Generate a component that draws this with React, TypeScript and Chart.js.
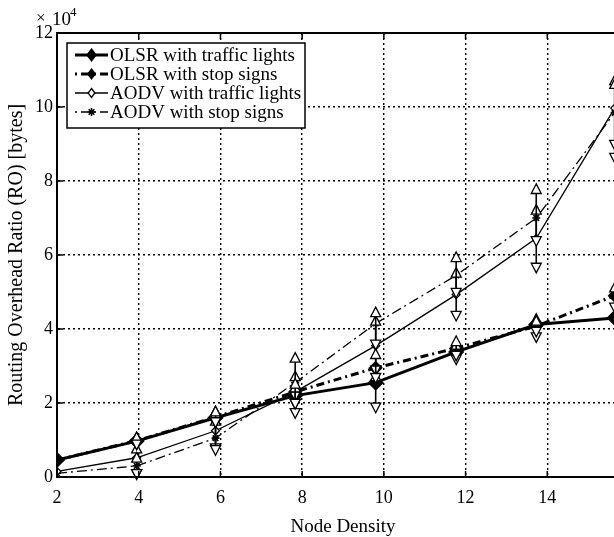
import React, { useEffect, useRef } from "react";
import { Chart, registerables } from "chart.js";
Chart.register(...registerables);

// ---- data ----
const xValues = [2, 3.95, 5.88, 7.83, 9.8, 11.77, 13.73, 15.65];
const olsrTrafficLights = [0.46, 0.97, 1.6, 2.2, 2.55, 3.38, 4.12, 4.3];
const olsrStopSigns = [0.46, 0.98, 1.62, 2.3, 2.95, 3.48, 4.08, 4.9];
const aodvTrafficLights = [0.15, 0.52, 1.25, 2.3, 3.55, 4.93, 6.45, 9.97];
const aodvStopSigns = [0.1, 0.3, 1.05, 2.55, 4.15, 5.45, 7.0, 9.85];

const olsrTrafficLow = [0.46, 0.9, 1.5, 1.75, 1.9, 3.2, 3.8, 4.3];
const olsrTrafficHigh = [0.46, 1.05, 1.7, 2.4, 2.7, 3.55, 4.25, 4.3];
const olsrStopLow = [0.46, 0.9, 1.5, 2.0, 2.7, 3.3, 3.95, 4.6];
const olsrStopHigh = [0.46, 1.05, 1.75, 2.5, 3.3, 3.65, 4.2, 5.1];
const aodvTrafficLow = [0.15, 0.1, 0.8, 2.0, 2.9, 4.38, 5.68, 8.65];
const aodvTrafficHigh = [0.15, 0.75, 1.5, 2.7, 4.2, 5.5, 7.2, 10.7];
const aodvStopLow = [0.1, 0.1, 0.75, 2.2, 3.6, 5.0, 6.4, 9.0];
const aodvStopHigh = [0.1, 0.5, 1.75, 3.2, 4.43, 5.92, 7.76, 10.6];

const xTicks = [2, 4, 6, 8, 10, 12, 14, 16];
const yTicks = [0, 2, 4, 6, 8, 10, 12];

const seriesLabels = [
  "OLSR with traffic lights",
  "OLSR with stop signs",
  "AODV with traffic lights",
  "AODV with stop signs",
];

const SERIF = "'Liberation Serif', 'Times New Roman', serif";
const DASHDOT_THICK = [8, 4, 2, 4];
const DASHDOT_THIN = [10, 4, 2, 4];

const toPoints = (ys: number[]) => xValues.map((x, i) => ({ x, y: ys[i] }));

function diamond(ctx: CanvasRenderingContext2D, x: number, y: number, r: number, filled: boolean) {
  ctx.beginPath();
  ctx.moveTo(x, y - r);
  ctx.lineTo(x + r * 0.75, y);
  ctx.lineTo(x, y + r);
  ctx.lineTo(x - r * 0.75, y);
  ctx.closePath();
  ctx.fillStyle = filled ? "#000" : "#fff";
  ctx.fill();
  ctx.strokeStyle = "#000";
  ctx.lineWidth = 1.3;
  ctx.stroke();
}

function star(ctx: CanvasRenderingContext2D, x: number, y: number, r: number) {
  ctx.strokeStyle = "#000";
  ctx.lineWidth = 1.6;
  ctx.beginPath();
  ctx.moveTo(x - r, y);
  ctx.lineTo(x + r, y);
  ctx.moveTo(x, y - r);
  ctx.lineTo(x, y + r);
  ctx.moveTo(x - r * 0.7, y - r * 0.7);
  ctx.lineTo(x + r * 0.7, y + r * 0.7);
  ctx.moveTo(x + r * 0.7, y - r * 0.7);
  ctx.lineTo(x - r * 0.7, y + r * 0.7);
  ctx.stroke();
}

function triangle(ctx: CanvasRenderingContext2D, x: number, y: number, up: boolean) {
  const h = 6;
  const w = 5;
  ctx.beginPath();
  if (up) {
    ctx.moveTo(x, y - h);
    ctx.lineTo(x + w, y + h * 0.6);
    ctx.lineTo(x - w, y + h * 0.6);
  } else {
    ctx.moveTo(x, y + h);
    ctx.lineTo(x + w, y - h * 0.6);
    ctx.lineTo(x - w, y - h * 0.6);
  }
  ctx.closePath();
  ctx.fillStyle = "#fff";
  ctx.fill();
  ctx.strokeStyle = "#000";
  ctx.lineWidth = 1.3;
  ctx.stroke();
}

const errorSets = [
  { low: aodvTrafficLow, high: aodvTrafficHigh, mid: aodvTrafficLights },
  { low: aodvStopLow, high: aodvStopHigh, mid: aodvStopSigns },
  { low: olsrTrafficLow, high: olsrTrafficHigh, mid: olsrTrafficLights },
  { low: olsrStopLow, high: olsrStopHigh, mid: olsrStopSigns },
];

const errorBarPlugin = {
  id: "errorBars",
  afterDatasetsDraw(chart: any) {
    const { ctx, scales } = chart;
    const xs = scales.x;
    const ys = scales.y;
    ctx.save();
    errorSets.forEach((set) => {
      xValues.forEach((xv, i) => {
        if (set.high[i] - set.low[i] < 0.05) return;
        const px = xs.getPixelForValue(xv);
        const pl = ys.getPixelForValue(set.low[i]);
        const ph = ys.getPixelForValue(set.high[i]);
        ctx.setLineDash([]);
        ctx.strokeStyle = "#000";
        ctx.lineWidth = 1.6;
        ctx.beginPath();
        ctx.moveTo(px, pl);
        ctx.lineTo(px, ph);
        ctx.stroke();
        if (set.high[i] - set.mid[i] > 0.05) triangle(ctx, px, ph, true);
        if (set.mid[i] - set.low[i] > 0.05) triangle(ctx, px, pl, false);
      });
    });
    ctx.restore();
  },
};

const framePlugin = {
  id: "frame",
  afterDatasetsDraw(chart: any) {
    const { ctx, chartArea, scales } = chart;
    const { left, right, top, bottom } = chartArea;
    ctx.save();
    ctx.setLineDash([]);
    ctx.strokeStyle = "#000";
    ctx.lineWidth = 2;
    ctx.beginPath();
    ctx.moveTo(left, top);
    ctx.lineTo(right, top);
    ctx.moveTo(left, top);
    ctx.lineTo(left, bottom);
    ctx.moveTo(left, bottom);
    ctx.lineTo(right, bottom);
    ctx.stroke();
    ctx.lineWidth = 1.5;
    ctx.beginPath();
    xTicks.forEach((t) => {
      const px = scales.x.getPixelForValue(t);
      ctx.moveTo(px, top);
      ctx.lineTo(px, top + 6);
      ctx.moveTo(px, bottom);
      ctx.lineTo(px, bottom - 6);
    });
    yTicks.forEach((t) => {
      const py = scales.y.getPixelForValue(t);
      ctx.moveTo(left, py);
      ctx.lineTo(left + 6, py);
    });
    ctx.stroke();
    ctx.restore();
  },
  afterDraw(chart: any) {
    const { ctx, chartArea } = chart;
    ctx.save();
    // exponent label
    ctx.fillStyle = "#000";
    ctx.textBaseline = "middle";
    ctx.textAlign = "left";
    ctx.font = `17px ${SERIF}`;
    ctx.fillText("\u00d7", 36, 19);
    ctx.font = `19px ${SERIF}`;
    ctx.fillText("10", 52, 20);
    ctx.font = `13px ${SERIF}`;
    ctx.fillText("4", 70, 13);

    // legend
    const bx = chartArea.left + 10;
    const by = chartArea.top + 10;
    const bw = 238;
    const bh = 85;
    ctx.fillStyle = "#fff";
    ctx.fillRect(bx, by, bw, bh);
    ctx.strokeStyle = "#000";
    ctx.lineWidth = 1.5;
    ctx.setLineDash([]);
    ctx.strokeRect(bx, by, bw, bh);

    const rowsY = [22, 41, 60, 79].map((d) => chartArea.top + d);
    const lx1 = bx + 8;
    const lx2 = bx + 41;
    const mx = (lx1 + lx2) / 2;
    const styles = [
      { w: 3, dash: [] as number[] },
      { w: 3, dash: [2, 4, 9, 4] },
      { w: 1.3, dash: [] as number[] },
      { w: 1.3, dash: [2, 4, 9, 4] },
    ];
    styles.forEach((s, i) => {
      const y = rowsY[i];
      ctx.save();
      ctx.lineWidth = s.w;
      ctx.setLineDash(s.dash);
      ctx.strokeStyle = "#000";
      ctx.beginPath();
      ctx.moveTo(lx1, y);
      ctx.lineTo(lx2, y);
      ctx.stroke();
      ctx.restore();
      ctx.setLineDash([]);
      if (i === 0) diamond(ctx, mx, y, 6, true);
      if (i === 1) diamond(ctx, mx, y, 5, true);
      if (i === 2) diamond(ctx, mx, y, 4.5, false);
      if (i === 3) star(ctx, mx, y, 4);
      ctx.fillStyle = "#000";
      ctx.font = `19px ${SERIF}`;
      ctx.textAlign = "left";
      ctx.textBaseline = "middle";
      ctx.fillText(seriesLabels[i], bx + 43, y + 1);
    });
    ctx.restore();
  },
};

export default function App() {
  const ref = useRef<HTMLCanvasElement | null>(null);
  useEffect(() => {
    const canvas = ref.current;
    if (!canvas) return;
    const chart = new Chart(canvas, {
      type: "line",
      data: {
        datasets: [
          {
            label: seriesLabels[0],
            data: toPoints(olsrTrafficLights),
            borderColor: "#000",
            backgroundColor: "#000",
            borderWidth: 3,
            pointStyle: "rectRot",
            pointRadius: 6,
            pointBackgroundColor: "#000",
            pointBorderColor: "#000",
          },
          {
            label: seriesLabels[1],
            data: toPoints(olsrStopSigns),
            borderColor: "#000",
            backgroundColor: "#000",
            borderWidth: 3,
            borderDash: DASHDOT_THICK,
            pointStyle: "rectRot",
            pointRadius: 5,
            pointBackgroundColor: "#000",
            pointBorderColor: "#000",
          },
          {
            label: seriesLabels[2],
            data: toPoints(aodvTrafficLights),
            borderColor: "#000",
            backgroundColor: "#fff",
            borderWidth: 1.3,
            pointStyle: "rectRot",
            pointRadius: 4,
            pointBorderWidth: 1.3,
            pointBackgroundColor: "#fff",
            pointBorderColor: "#000",
          },
          {
            label: seriesLabels[3],
            data: toPoints(aodvStopSigns),
            borderColor: "#000",
            backgroundColor: "#000",
            borderWidth: 1.3,
            borderDash: DASHDOT_THIN,
            pointStyle: "star",
            pointRadius: 4,
            pointBorderWidth: 1.6,
            pointBorderColor: "#000",
          },
        ],
      },
      options: {
        animation: false,
        responsive: false,
        devicePixelRatio: 1,
        layout: { padding: { left: 0, top: 33, right: 51, bottom: 0 } },
        plugins: { legend: { display: false }, tooltip: { enabled: false } },
        elements: { line: { tension: 0 } },
        scales: {
          x: {
            type: "linear",
            min: 2,
            max: 16,
            afterFit: (s: any) => {
              s.height = 60;
            },
            afterBuildTicks: (s: any) => {
              s.ticks = xTicks.map((v) => ({ value: v }));
            },
            ticks: {
              color: "#000",
              font: { family: SERIF, size: 18 },
              padding: 10,
              maxRotation: 0,
            },
            grid: { color: "#000", lineWidth: 1.4, drawTicks: false },
            border: { display: true, color: "#000", width: 2, dash: [2, 3] },
            title: {
              display: true,
              text: "Node Density",
              color: "#000",
              font: { family: SERIF, size: 19 },
              padding: { top: 0, bottom: -1 },
            },
          },
          y: {
            min: 0,
            max: 12,
            afterFit: (s: any) => {
              s.width = 57;
            },
            afterBuildTicks: (s: any) => {
              s.ticks = yTicks.map((v) => ({ value: v }));
            },
            ticks: {
              color: "#000",
              font: { family: SERIF, size: 18 },
              padding: 4,
            },
            grid: { color: "#000", lineWidth: 1.4, drawTicks: false },
            border: { display: true, color: "#000", width: 2, dash: [2, 3] },
            title: {
              display: true,
              text: "Routing Overhead Ratio (RO) [bytes]",
              color: "#000",
              font: { family: SERIF, size: 20 },
              padding: { top: 5, bottom: 0 },
            },
          },
        },
      },
      plugins: [errorBarPlugin, framePlugin],
    } as any);
    return () => chart.destroy();
  }, []);
  return (
    <div
      style={{
        position: "fixed",
        left: 0,
        top: 0,
        width: 614,
        height: 537,
        overflow: "hidden",
        background: "#fff",
      }}
    >
      <canvas ref={ref} width={680} height={537} style={{ display: "block", width: 680, height: 537 }} />
    </div>
  );
}
